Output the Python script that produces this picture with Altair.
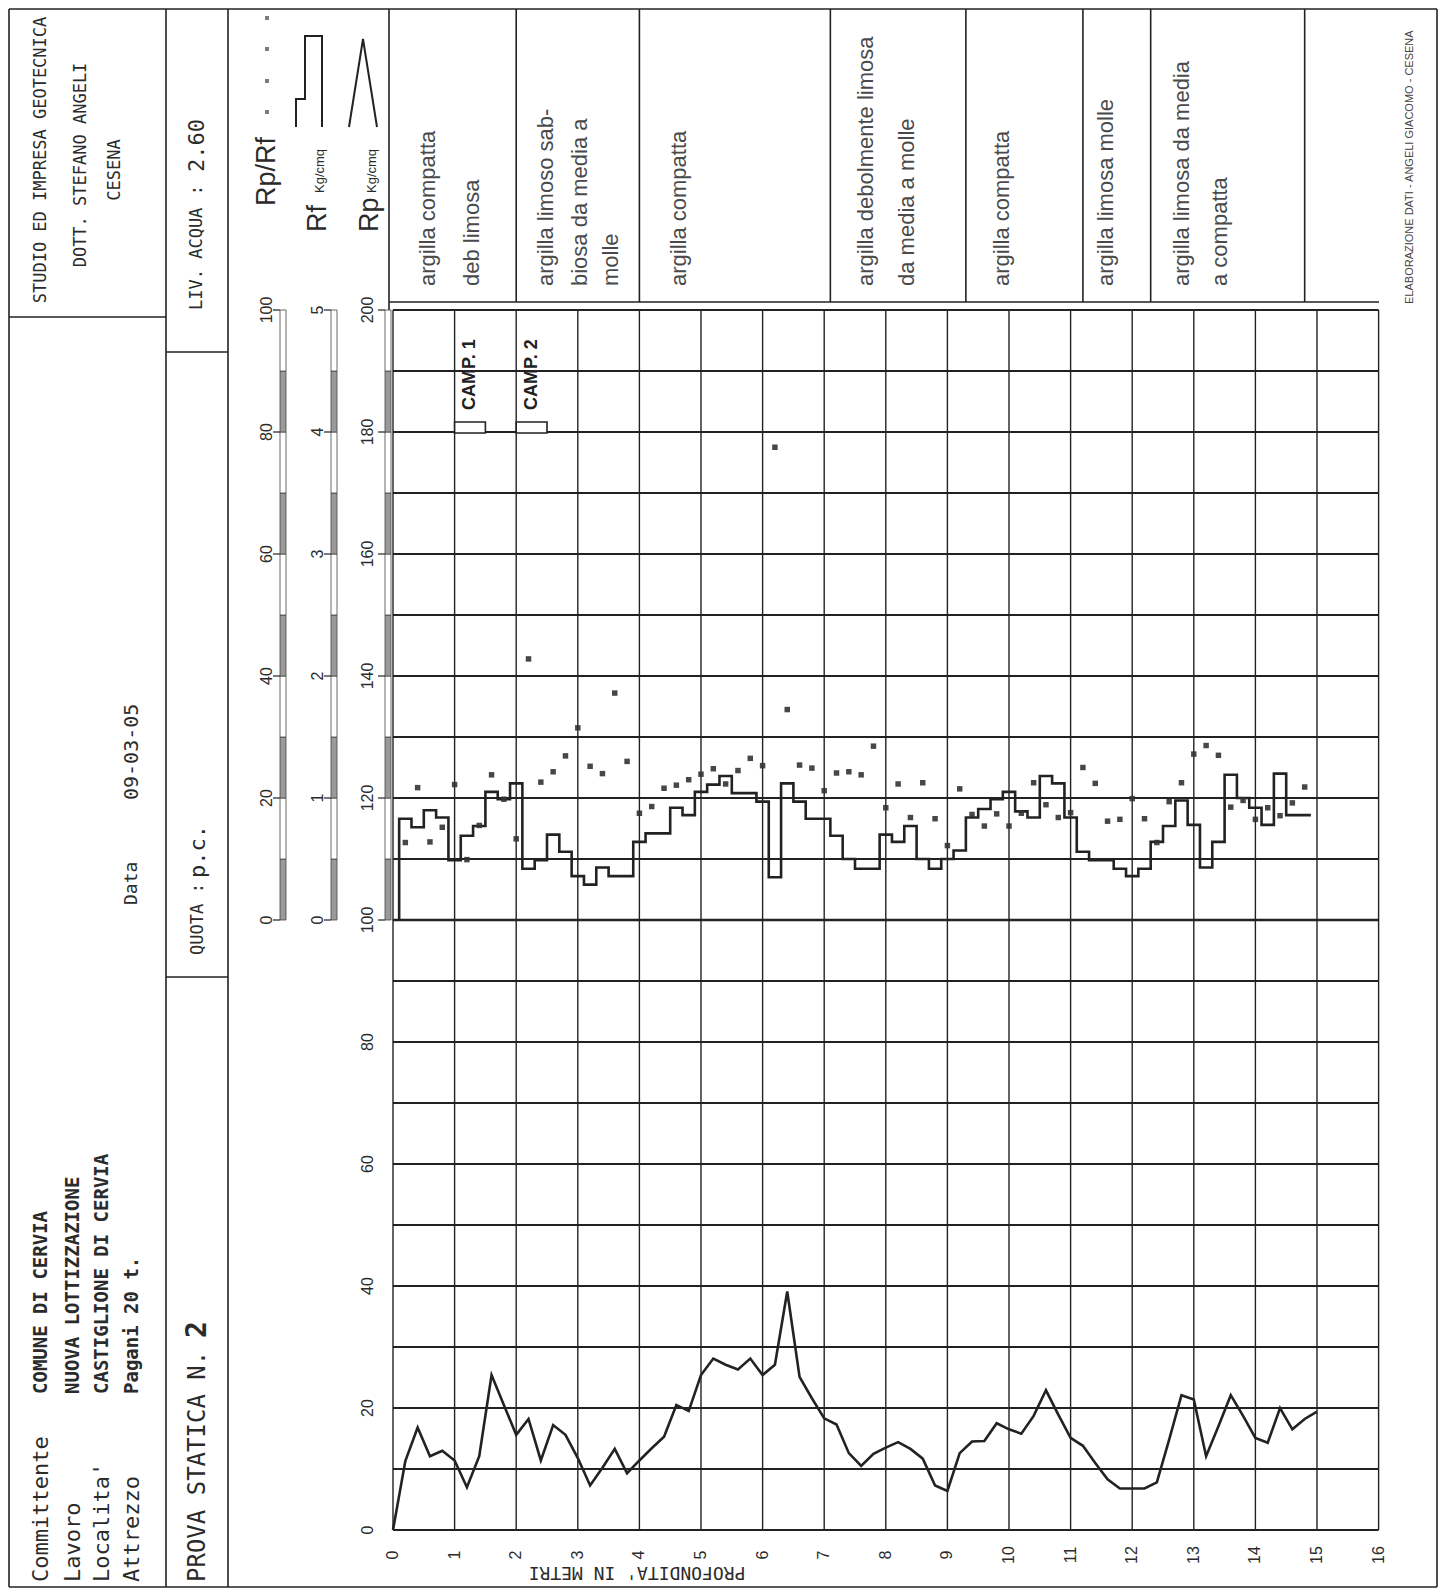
import altair as alt
import pandas as pd

# ---------------- data ----------------
DEPTH_RP = [0.0, 0.2, 0.4, 0.6, 0.8, 1.0, 1.2, 1.4, 1.6, 1.8, 2.0, 2.2, 2.4, 2.6, 2.8,
            3.0, 3.2, 3.4, 3.6, 3.8, 4.0, 4.2, 4.4, 4.6, 4.8, 5.0, 5.2, 5.4, 5.6, 5.8,
            6.0, 6.2, 6.4, 6.6, 6.8, 7.0, 7.2, 7.4, 7.6, 7.8, 8.0, 8.2, 8.4, 8.6, 8.8,
            9.0, 9.2, 9.4, 9.6, 9.8, 10.0, 10.2, 10.4, 10.6, 10.8, 11.0, 11.2, 11.4, 11.6, 11.8,
            12.0, 12.2, 12.4, 12.6, 12.8, 13.0, 13.2, 13.4, 13.6, 13.8, 14.0, 14.2, 14.4, 14.6, 14.8,
            15.0]
RP = [0, 11.3, 16.8, 12.1, 13.0, 11.4, 7.0, 12.1, 25.4, 20.5, 15.6, 18.2, 11.4, 17.2, 15.6,
      11.8, 7.3, 10.2, 13.3, 9.3, 11.4, 13.4, 15.3, 20.5, 19.5, 25.4, 28.1, 27.1, 26.3, 28.1,
      25.4, 27.1, 39.1, 25.1, 21.6, 18.3, 17.3, 12.6, 10.5, 12.5, 13.5, 14.4, 13.3, 11.7, 7.3,
      6.4, 12.6, 14.5, 14.6, 17.5, 16.5, 15.8, 18.7, 22.9, 18.9, 15.1, 13.8, 11.0, 8.3, 6.8,
      6.8, 6.8, 7.8, 14.8, 22.1, 21.4, 12.1, 17.0, 22.1, 18.7, 15.1, 14.3, 20.0, 16.5, 18.2,
      19.4]

DEPTH_RF = [0.2, 0.4, 0.6, 0.8, 1.0, 1.2, 1.4, 1.6, 1.8, 2.0, 2.2, 2.4, 2.6, 2.8,
            3.0, 3.2, 3.4, 3.6, 3.8, 4.0, 4.2, 4.4, 4.6, 4.8, 5.0, 5.2, 5.4, 5.6, 5.8,
            6.0, 6.2, 6.4, 6.6, 6.8, 7.0, 7.2, 7.4, 7.6, 7.8, 8.0, 8.2, 8.4, 8.6, 8.8,
            9.0, 9.2, 9.4, 9.6, 9.8, 10.0, 10.2, 10.4, 10.6, 10.8, 11.0, 11.2, 11.4, 11.6, 11.8,
            12.0, 12.2, 12.4, 12.6, 12.8, 13.0, 13.2, 13.4, 13.6, 13.8, 14.0, 14.2, 14.4, 14.6, 14.8]
RF = [0.83, 0.76, 0.90, 0.84, 0.49, 0.69, 0.77, 1.05, 0.99, 1.12,
      0.42, 0.49, 0.70, 0.56, 0.36, 0.29, 0.43, 0.36, 0.36, 0.64,
      0.71, 0.71, 0.92, 0.86, 1.05, 1.11, 1.18, 1.04, 1.04, 0.97,
      0.35, 1.12, 0.97, 0.83, 0.83, 0.69, 0.50, 0.42, 0.42, 0.70,
      0.64, 0.77, 0.50, 0.42, 0.50, 0.57, 0.84, 0.91, 0.99, 1.05,
      0.89, 0.84, 1.18, 1.12, 0.84, 0.56, 0.49, 0.49, 0.42, 0.36,
      0.42, 0.64, 0.77, 0.98, 0.78, 0.43, 0.64, 1.19, 1.00, 0.92,
      0.78, 1.20, 0.86, 0.86]
RP_RF = [12.7, 21.7, 12.8, 15.2, 22.2, 9.9, 15.5, 23.8, 19.8, 13.3,
         42.8, 22.6, 24.3, 26.9, 31.5, 25.2, 24.0, 37.2, 26.0, 17.5,
         18.6, 21.6, 22.1, 23.0, 23.9, 24.8, 22.3, 24.5, 26.5, 25.3,
         77.5, 34.5, 25.4, 24.9, 21.2, 24.1, 24.3, 23.8, 28.5, 18.4,
         22.3, 16.8, 22.5, 16.6, 12.2, 21.5, 17.3, 15.4, 17.4, 15.4,
         17.5, 22.5, 18.9, 16.8, 17.6, 25.0, 22.4, 16.2, 16.5, 19.9,
         16.6, 12.7, 19.4, 22.5, 27.2, 28.6, 27.0, 18.5, 19.6, 16.5,
         18.4, 17.1, 19.2, 21.8]

CAMP_FROM = [1.0, 2.0]
CAMP_TO = [1.5, 2.5]
CAMP_LABEL = ["CAMP. 1", "CAMP. 2"]

STRATA_BOUNDS = [2.0, 4.0, 7.1, 9.3, 11.2, 12.3, 14.8]
STRATA_LINES = ["argilla compatta", "deb  limosa",
                "argilla limoso sab-", "biosa da media a", "molle",
                "argilla compatta",
                "argilla debolmente limosa", "da media a molle",
                "argilla compatta",
                "argilla limosa molle",
                "argilla limosa da media", "a compatta"]

DEPTH_TICKS = [0, 1, 2, 3, 4, 5, 6, 7, 8, 9, 10, 11, 12, 13, 14, 15, 16]
RP_TICKS = [0, 20, 40, 60, 80, 100, 120, 140, 160, 180, 200]
RF_TICKS = [0, 1, 2, 3, 4, 5]
RATIO_TICKS = [0, 20, 40, 60, 80, 100]

# ---------------- layout helpers ----------------
MONO = "DejaVu Sans Mono, Liberation Mono, monospace"
SANS = "Liberation Sans, Arial, Helvetica, sans-serif"
NUM = "Liberation Sans, Arial, sans-serif"
INK = "#222222"

W, H = 1430, 1580
X0, XS = 393.0, 61.6      # page px of depth 0, px per metre
Y0, YS = 1530.0, 6.1      # page px of Rp 0, px per Kg/cmq


def d_of(px):
    return (px - X0) / XS


def v_of(py):
    return (Y0 - py) / YS


XSC = alt.Scale(domain=[d_of(8), d_of(8 + W)], nice=False, zero=False)
YSC = alt.Scale(domain=[v_of(8 + H), v_of(8)], nice=False, zero=False)


def ex(f):
    return alt.X(f, type="quantitative", scale=XSC, axis=None)


def ey(f):
    return alt.Y(f, type="quantitative", scale=YSC, axis=None)


layers = []

# ---------------- frame lines ----------------
frame_px = [
    (9, 9, 1437, 9), (9, 1587, 1437, 1587), (9, 9, 9, 1587), (1437, 9, 1437, 1587),
    (166, 9, 166, 1587), (228, 9, 228, 1587),
    (9, 317, 166, 317), (166, 352, 228, 352), (166, 977, 228, 977),
    (389, 9, 389, 310), (389, 302, 1379, 302),
]
frame = pd.DataFrame([{"d1": d_of(a), "v1": v_of(b), "d2": d_of(c), "v2": v_of(e)}
                      for a, b, c, e in frame_px])
layers.append(alt.Chart(frame).mark_rule(color=INK, strokeWidth=1.6).encode(
    x=ex("d1"), y=ey("v1"), x2="d2", y2="v2"))

strata = pd.DataFrame({"d": STRATA_BOUNDS, "v1": [v_of(9)] * len(STRATA_BOUNDS),
                       "v2": [v_of(302)] * len(STRATA_BOUNDS)})
layers.append(alt.Chart(strata).mark_rule(color=INK, strokeWidth=1.6).encode(
    x=ex("d"), y=ey("v1"), y2="v2"))

# ---------------- grid ----------------
vgrid = pd.DataFrame({"d": DEPTH_TICKS, "v1": [0] * 17, "v2": [200] * 17})
layers.append(alt.Chart(vgrid).mark_rule(color=INK, strokeWidth=1.4).encode(
    x=ex("d"), y=ey("v1"), y2="v2"))
hv = list(range(0, 201, 10))
hgrid = pd.DataFrame({"v": hv, "d1": [0] * len(hv), "d2": [16] * len(hv),
                      "w": [2.6 if v == 100 else 1.8 for v in hv]})
layers.append(alt.Chart(hgrid).mark_rule(color=INK).encode(
    y=ey("v"), x=ex("d1"), x2="d2", strokeWidth=alt.StrokeWidth("w:Q", scale=None)))

# ---------------- scale bars (Rp/Rf, Rf, Rp) ----------------
bar_rows = []
for xl in (280, 331, 385):
    for k in range(10):
        lo = 100 + 10 * k
        bar_rows.append({"d1": d_of(xl), "d2": d_of(xl + 6), "v1": lo, "v2": lo + 10,
                         "fill": "#9a9a9a" if k % 2 == 0 else "#ffffff"})
bars = pd.DataFrame(bar_rows)
layers.append(alt.Chart(bars).mark_rect(stroke="#444", strokeWidth=0.8).encode(
    x=ex("d1"), x2="d2", y=ey("v1"), y2="v2", fill=alt.Fill("fill:N", scale=None)))
tick_rows = []
for xl in (280, 331, 385):
    for k in range(6):
        tick_rows.append({"d1": d_of(xl - 7), "d2": d_of(xl), "v": 100 + 20 * k})
layers.append(alt.Chart(pd.DataFrame(tick_rows)).mark_rule(color=INK, strokeWidth=1.2).encode(
    x=ex("d1"), x2="d2", y=ey("v")))

# ---------------- data series ----------------
rp_df = pd.DataFrame({"d": DEPTH_RP, "v": RP})
layers.append(alt.Chart(rp_df).mark_line(color=INK, strokeWidth=2.6).encode(
    x=ex("d"), y=ey("v")))

# Rf drawn as steps on the 100..200 band (Rf 0..5 -> 100..200)
step_d = [DEPTH_RF[0] - 0.1] + [d - 0.1 for d in DEPTH_RF] + [DEPTH_RF[-1] + 0.1]
step_r = [0.0] + RF + [RF[-1]]
rf_df = pd.DataFrame({"i": list(range(len(step_d))), "d": step_d,
                      "v": [100 + 20 * r for r in step_r]})
layers.append(alt.Chart(rf_df).mark_line(color=INK, strokeWidth=2.6, interpolate="step-after").encode(
    x=ex("d"), y=ey("v"), order="i:Q"))

ratio_df = pd.DataFrame({"d": DEPTH_RF, "v": [100 + r for r in RP_RF]})
layers.append(alt.Chart(ratio_df).mark_point(shape="square", filled=True, size=30,
                                             color="#333", opacity=0.9).encode(
    x=ex("d"), y=ey("v")))

# samples
camp_df = pd.DataFrame({"d1": CAMP_FROM, "d2": CAMP_TO, "v1": [v_of(433)] * 2,
                        "v2": [v_of(422)] * 2, "label": CAMP_LABEL,
                        "dm": [(a + b) / 2 for a, b in zip(CAMP_FROM, CAMP_TO)],
                        "vt": [v_of(410)] * 2})
layers.append(alt.Chart(camp_df).mark_rect(fill="white", stroke=INK, strokeWidth=1.6).encode(
    x=ex("d1"), x2="d2", y=ey("v1"), y2="v2"))
layers.append(alt.Chart(camp_df).mark_text(angle=270, align="left", baseline="middle",
                                           font=SANS, fontSize=18, fontWeight="bold",
                                           color=INK).encode(
    x=ex("dm"), y=ey("vt"), text="label:N"))

# ---------------- legend glyphs ----------------
rf_sym = [(296, 127), (296, 99), (305, 99), (305, 36), (322, 36), (322, 127)]
layers.append(alt.Chart(pd.DataFrame({"i": range(6), "d": [d_of(p[0]) for p in rf_sym],
                                      "v": [v_of(p[1]) for p in rf_sym]}))
              .mark_line(color=INK, strokeWidth=2).encode(x=ex("d"), y=ey("v"), order="i:Q"))
rp_sym = [(349, 127), (363, 39), (377, 127)]
layers.append(alt.Chart(pd.DataFrame({"i": range(3), "d": [d_of(p[0]) for p in rp_sym],
                                      "v": [v_of(p[1]) for p in rp_sym]}))
              .mark_line(color=INK, strokeWidth=2).encode(x=ex("d"), y=ey("v"), order="i:Q"))
dots = pd.DataFrame({"d": [d_of(267)] * 4, "v": [v_of(y) for y in (18, 49, 81, 112)]})
layers.append(alt.Chart(dots).mark_point(shape="square", filled=True, size=16, color="#444").encode(
    x=ex("d"), y=ey("v")))

# ---------------- texts ----------------
texts = []


def T(px, py, s, size, font=MONO, align="left", angle=270, weight="normal", color="#2b2b2b"):
    texts.append(dict(d=d_of(px), v=v_of(py), text=s, size=size, font=font, align=align,
                      angle=angle, weight=weight, color=color))


# title block
T(41, 160, "STUDIO ED IMPRESA GEOTECNICA", 17, align="center")
T(81, 165, "DOTT. STEFANO ANGELI", 17, align="center")
T(115, 170, "CESENA", 17, align="center")
T(197, 310, "LIV. ACQUA", 17)
T(197, 190, ":", 17, align="center")
T(197, 172, "2.60", 22)
T(198, 955, "QUOTA", 17)
T(198, 888, ":", 17, align="center")
T(198, 878, "p.c.", 22)
T(198, 1582, "PROVA STATICA N.", 24)
T(198, 1338, "2", 28, weight="bold")
for px, s in zip((41, 73, 102, 132), ("Committente", "Lavoro", "Localita'", "Attrezzo")):
    T(px, 1582, s, 22)
for px, s in zip((41, 73, 102, 132), ("COMUNE DI CERVIA", "NUOVA LOTTIZZAZIONE",
                                      "CASTIGLIONE DI CERVIA", "Pagani 20 t.")):
    T(px, 1394, s, 19, weight="bold")
T(132, 905, "Data", 18)
T(132, 800, "09-03-05", 20)

# legend texts
T(267, 206, "Rp/Rf", 27, font=SANS)
T(318, 232, "Rf", 27, font=SANS)
T(320, 193, "Kg/cmq", 13, font=SANS)
T(370, 232, "Rp", 27, font=SANS)
T(372, 193, "Kg/cmq", 13, font=SANS)

# strata descriptions
strata_x = [428, 472, 546, 580, 611, 679, 866, 907, 1002, 1106, 1182, 1220]
for px, s in zip(strata_x, STRATA_LINES):
    T(px, 286, s, 22, font=SANS, color="#4a4a4a")
T(1410, 304, "ELABORAZIONE DATI - ANGELI GIACOMO - CESENA", 11, font=SANS, color="#444")

# bottom caption (upside down)
T(637, 1572, "PROFONDITA' IN METRI", 18, align="center", angle=180)

tdf = pd.DataFrame(texts)
for key, g in tdf.groupby(["size", "font", "align", "angle", "weight", "color"]):
    size, font, align, angle, weight, color = key
    layers.append(alt.Chart(g).mark_text(angle=float(angle), align=align, baseline="middle",
                                         font=font, fontSize=float(size), fontWeight=weight,
                                         color=color).encode(
        x=ex("d"), y=ey("v"), text="text:N"))

# tick labels through the scales
lab_rows = []
for t in DEPTH_TICKS:
    lab_rows.append({"d": t, "v": v_of(1555), "text": str(t)})
for t in RP_TICKS:
    lab_rows.append({"d": d_of(368), "v": t, "text": str(t)})
for t in RF_TICKS:
    lab_rows.append({"d": d_of(318), "v": 100 + 20 * t, "text": str(t)})
for t in RATIO_TICKS:
    lab_rows.append({"d": d_of(267), "v": 100 + t, "text": str(t)})
layers.append(alt.Chart(pd.DataFrame(lab_rows)).mark_text(
    angle=270, align="center", baseline="middle", font=NUM, fontSize=16, color="#2b2b2b").encode(
    x=ex("d"), y=ey("v"), text="text:N"))

chart = alt.layer(*layers).properties(
    width=W, height=H, padding=0, autosize=alt.AutoSizeParams(type="none"),
    background="white"
).configure_view(stroke=None)

chart.save("out.html", embed_options={"renderer": "svg", "actions": False})
